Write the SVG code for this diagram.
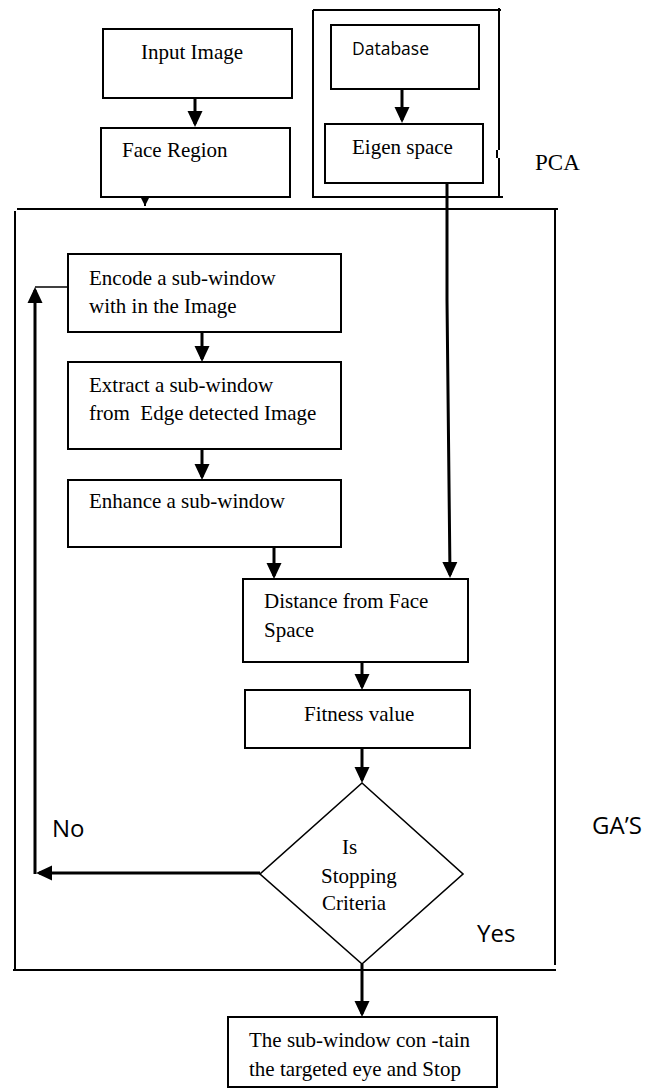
<svg xmlns="http://www.w3.org/2000/svg" width="661" height="1089" viewBox="0 0 661 1089">
<style>
.bg{fill:#fff}
.box{fill:#fff;stroke:#000;stroke-width:2}
.frame{fill:none;stroke:#000;stroke-width:2}
.dia{fill:#fff;stroke:#000;stroke-width:1.6}
.t{font-family:"Liberation Serif","Times New Roman",serif;font-size:21px;fill:#000;white-space:pre}
.s{font-family:"Open Sans","Liberation Sans",sans-serif;fill:#000}
.arr{fill:none;stroke:#000;stroke-width:3;marker-end:url(#ah)}
.thin{fill:none;stroke:#000;stroke-width:1.6}
</style>
<defs>
<marker id="ah" markerUnits="userSpaceOnUse" markerWidth="16" markerHeight="16" viewBox="0 0 16 16" refX="13" refY="8" orient="auto">
<path d="M0,0.5 L16,8 L0,15.5 z" fill="#000"/>
</marker>
<marker id="ahs" markerUnits="userSpaceOnUse" markerWidth="9" markerHeight="9" viewBox="0 0 9 9" refX="9" refY="4.5" orient="auto">
<path d="M0,0 L9,4.5 L0,9 z" fill="#000"/>
</marker>
</defs>
<rect class="bg" x="0" y="0" width="661" height="1089"/>

<g id="pca-frame">
<path class="frame" d="M313,10 L501,10 M499,8 L499,150 M497,150 L497,158 M499,158 L499,197 M313,10 L313,197 M312,197 L503,197"/>
<text class="t" x="535" y="170" style="font-size:23px">PCA</text>
</g>

<g id="ga-frame">
<path class="frame" d="M17,209 L558,209 M15,211 L15,970 M555,209 L555,965 M13,970 L556,970"/>
<text class="s" x="592" y="834" font-size="24">GA’S</text>
</g>

<g id="input-image">
<rect class="box" x="103" y="29" width="189" height="69"/>
<text class="t" x="141" y="59">Input Image</text>
</g>

<g id="face-region">
<rect class="box" x="101" y="128" width="189" height="69"/>
<text class="t" x="122" y="157">Face Region</text>
</g>

<g id="database">
<rect class="box" x="331" y="25" width="148" height="64"/>
<text class="s" x="352" y="55" font-size="17.5">Database</text>
</g>

<g id="eigen-space">
<rect class="box" x="325" y="124" width="158" height="59"/>
<text class="t" x="352" y="154">Eigen space</text>
</g>

<g id="encode">
<rect class="box" x="68" y="254" width="273" height="78"/>
<text class="t" x="89" y="285">Encode a sub-window</text>
<text class="t" x="89" y="313">with in the Image</text>
</g>

<g id="extract">
<rect class="box" x="68" y="362" width="273" height="87"/>
<text class="t" x="89" y="392">Extract a sub-window</text>
<text class="t" x="89" y="420">from  Edge detected Image</text>
</g>

<g id="enhance">
<rect class="box" x="68" y="480" width="273" height="67"/>
<text class="t" x="89" y="508">Enhance a sub-window</text>
</g>

<g id="distance">
<rect class="box" x="243" y="579" width="225" height="83"/>
<text class="t" x="264" y="608">Distance from Face</text>
<text class="t" x="264" y="637">Space</text>
</g>

<g id="fitness">
<rect class="box" x="245" y="690" width="225" height="58"/>
<text class="t" x="304" y="721">Fitness value</text>
</g>

<g id="decision">
<path class="dia" d="M362,783 L463,874 L362,964 L260,874 z"/>
<text class="t" x="342" y="854">Is</text>
<text class="t" x="321" y="883">Stopping</text>
<text class="t" x="322" y="910">Criteria</text>
</g>

<g id="result">
<rect class="box" x="228" y="1017" width="269" height="70"/>
<text class="t" x="249" y="1047">The sub-window con -tain</text>
<text class="t" x="249" y="1076">the targeted eye and Stop</text>
</g>

<g id="connectors">
<path class="arr" d="M195,98 L195,124"/>
<path class="arr" d="M402,89 L402,120"/>
<path d="M145,197 L145,206" fill="none" stroke="#000" stroke-width="2" marker-end="url(#ahs)"/>
<path class="arr" d="M447,183 L447,300 L450,575"/>
<path class="arr" d="M202,332 L202,359"/>
<path class="arr" d="M202,449 L202,477"/>
<path class="arr" d="M274,547 L274,576"/>
<path class="arr" d="M362,662 L362,687"/>
<path class="arr" d="M362,748 L362,780"/>
<path class="arr" d="M362,964 L362,1014"/>
<path class="arr" d="M260,873 L39,873"/>
<path class="arr" d="M35,874 L35,290"/>
<path class="thin" d="M35,287 L68,287"/>
<text class="s" x="52" y="837" font-size="24">No</text>
<text class="s" x="477" y="942" font-size="24">Yes</text>
</g>
</svg>
